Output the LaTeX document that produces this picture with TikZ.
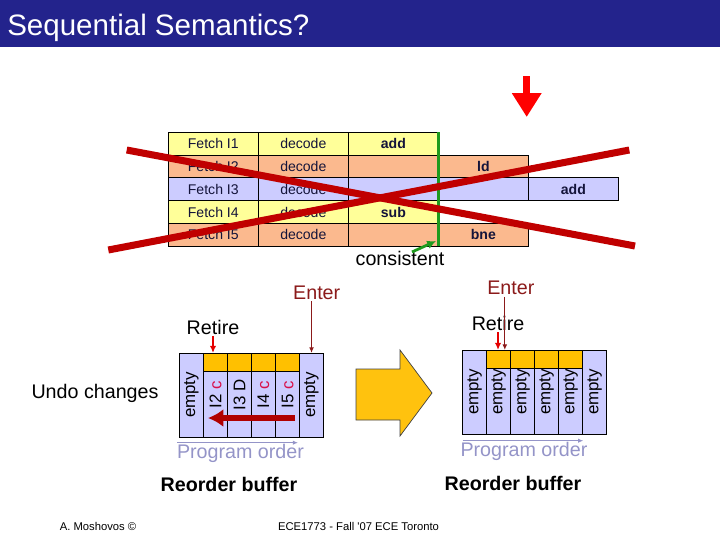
\documentclass[tikz,border=0pt]{standalone}
\usepackage{fontspec}
\setmainfont{Liberation Sans}
\usepackage{tikz}
\usetikzlibrary{arrows.meta,positioning}
\definecolor{barblue}{HTML}{23238C}
\definecolor{rowyellow}{HTML}{FFFF99}
\definecolor{rowsalmon}{HTML}{FBB98E}
\definecolor{rowlav}{HTML}{CCCCFF}
\definecolor{cellink}{HTML}{14143A}
\definecolor{capgold}{HTML}{FFC000}
\definecolor{crossred}{HTML}{C00000}
\definecolor{undored}{HTML}{B00000}
\definecolor{enterred}{HTML}{8B1A1A}
\definecolor{pinkc}{HTML}{D8104A}
\definecolor{progblue}{HTML}{9494C8}
\definecolor{consgreen}{HTML}{1E9A1E}
\definecolor{arrowgold}{HTML}{FFC20E}
\tikzset{
  pipecell/.style={
    rectangle, draw=black, line width=0.6pt,
    minimum width=2.25cm, minimum height=0.57cm,
    inner sep=0pt, outer sep=0pt, text=cellink,
    font=\fontsize{10}{12}\selectfont
  },
  robcol/.style={
    rectangle, draw=black, line width=0.5pt, fill=rowlav,
    minimum width=0.6cm, minimum height=2.1cm,
    inner sep=0pt, outer sep=0pt, font=\fontsize{12}{14}\selectfont
  },
  robcap/.style={
    rectangle, draw=black, line width=0.5pt, fill=capgold,
    minimum width=0.6cm, minimum height=0.47cm, inner sep=0pt, outer sep=0pt
  },
  biglabel/.style={inner sep=1pt, font=\fontsize{14}{16}\selectfont},
  retirearrow/.style={-{Latex[length=1.8mm,width=1.6mm]}, line width=1.2pt, color=red!90!black},
  enterline/.style={-{Latex[length=1.4mm,width=1.2mm]}, line width=0.8pt, color=enterred},
  progarrow/.style={-{Latex[length=1.3mm,width=1.1mm]}, line width=1.1pt, color=progblue},
  crossline/.style={line width=5pt, color=crossred},
}

\begin{document}
\begin{tikzpicture}[x=0.025cm, y=-0.025cm]
  \useasboundingbox (0,0) rectangle (720,540);
  \fill[barblue] (0,0) rectangle (720,47);
  \node[anchor=base west, inner sep=0pt, text=white, font=\fontsize{21}{24}\selectfont] (title) at (7,35) {Sequential Semantics?};

  % pipeline table
  \node[pipecell, fill=rowyellow] (f1) at (213.3,143.7) {Fetch I1};
  \node[pipecell, fill=rowsalmon, below=0pt of f1] (f2) {Fetch I2};
  \node[pipecell, fill=rowlav, below=0pt of f2] (f3) {Fetch I3};
  \node[pipecell, fill=rowyellow, below=0pt of f3] (f4) {Fetch I4};
  \node[pipecell, fill=rowsalmon, below=0pt of f4] (f5) {Fetch I5};
  \node[pipecell, fill=rowyellow, right=0pt of f1] (dec1) {decode};
  \node[pipecell, fill=rowsalmon, right=0pt of f2] (dec2) {decode};
  \node[pipecell, fill=rowlav, right=0pt of f3] (dec3) {decode};
  \node[pipecell, fill=rowyellow, right=0pt of f4] (dec4) {decode};
  \node[pipecell, fill=rowsalmon, right=0pt of f5] (dec5) {decode};
  \node[pipecell, fill=rowyellow, right=0pt of dec1] (ex1) {\textbf{add}};
  \node[pipecell, fill=rowsalmon, right=0pt of dec2] (ex2) {};
  \node[pipecell, fill=rowlav, right=0pt of dec3] (ex3) {};
  \node[pipecell, fill=rowyellow, right=0pt of dec4] (ex4) {\textbf{sub}};
  \node[pipecell, fill=rowsalmon, right=0pt of dec5] (ex5) {};
  \node[pipecell, fill=rowsalmon, right=0pt of ex2] (mem2) {\textbf{ld}};
  \node[pipecell, fill=rowlav, right=0pt of ex3] (mem3) {};
  \node[pipecell, fill=rowsalmon, right=0pt of ex5] (mem5) {\textbf{bne}};
  \node[pipecell, fill=rowlav, right=0pt of mem3] (wb3) {\textbf{add}};

  \draw[consgreen, line width=2.1pt] (ex1.north east) -- (ex5.south east);
  \node[biglabel] (cons) at (400,258.5) {consistent};
  \coordinate (consA) at (412,252);
  \coordinate (consB) at (436,241);
  \draw[consgreen, line width=2pt, -{Latex[length=2.2mm,width=2.2mm]}] (consA) -- (consB);

  % the red cross
  \coordinate (xa) at (126.7,150);
  \coordinate (xb) at (635,246);
  \coordinate (xc) at (108.3,250);
  \coordinate (xd) at (629.3,150);
  \draw[crossline] (xa) -- (xb);
  \draw[crossline] (xc) -- (xd);

  \coordinate (dnA) at (526.7,76);
  \coordinate (dnB) at (526.7,117);
  \draw[red, line width=5pt, -{Triangle[length=17pt,width=20pt]}] (dnA) -- (dnB);

  % left reorder buffer
  \node[robcol] (cL1) at (191.5,395) {\rotatebox{90}{empty}};
  \node[robcol, right=0pt of cL1] (cL2) {\rotatebox{90}{I2 \textcolor{pinkc}{c}}};
  \node[robcol, right=0pt of cL2] (cL3) {\rotatebox{90}{I3 D}};
  \node[robcol, right=0pt of cL3] (cL4) {\rotatebox{90}{I4 \textcolor{pinkc}{c}}};
  \node[robcol, right=0pt of cL4] (cL5) {\rotatebox{90}{I5 \textcolor{pinkc}{c}}};
  \node[robcol, right=0pt of cL5] (cL6) {\rotatebox{90}{empty}};
  \node[robcap, below=0pt of cL2.north] (capL2) {};
  \node[robcap, below=0pt of cL3.north] (capL3) {};
  \node[robcap, below=0pt of cL4.north] (capL4) {};
  \node[robcap, below=0pt of cL5.north] (capL5) {};

  \coordinate (undoA) at (295,418);
  \coordinate (undoB) at (208,418);
  \draw[undored, line width=4.3pt, -{Latex[length=11pt,width=13pt]}] (undoA) -- (undoB);

  \node[biglabel, text=enterred] (entL) at (316.7,292.7) {Enter};
  \node[biglabel] (retL) at (213,327) {Retire};
  \draw[enterline] (entL.south -| cL6) -- (cL6.north);
  \draw[retirearrow] (retL.south) -- (retL.south |- capL2.north);
  \node[biglabel] (undo) at (95,393) {Undo changes};
  \coordinate (pL0) at (177,442.7);
  \coordinate (pL1) at (298,442.7);
  \draw[progarrow] (pL0) -- (pL1);
  \node[biglabel, text=progblue] (progL) at (240.5,453.5) {Program order};
  \node[biglabel, font=\fontsize{14}{16}\selectfont\bfseries] (robL) at (229,484) {Reorder buffer};

  % big arrow between the buffers
  \filldraw[fill=arrowgold, draw=black!75, line width=0.5pt]
    (356,369) -- (400,369) -- (400,350) -- (432,393) -- (400,436) -- (400,420) -- (356,420) -- cycle;

  % right reorder buffer
  \node[robcol] (cR1) at (474.7,392) {\rotatebox{90}{empty}};
  \node[robcol, right=0pt of cR1] (cR2) {\rotatebox{90}{empty}};
  \node[robcol, right=0pt of cR2] (cR3) {\rotatebox{90}{empty}};
  \node[robcol, right=0pt of cR3] (cR4) {\rotatebox{90}{empty}};
  \node[robcol, right=0pt of cR4] (cR5) {\rotatebox{90}{empty}};
  \node[robcol, right=0pt of cR5] (cR6) {\rotatebox{90}{empty}};
  \node[robcap, below=0pt of cR2.north] (capR2) {};
  \node[robcap, below=0pt of cR3.north] (capR3) {};
  \node[robcap, below=0pt of cR4.north] (capR4) {};
  \node[robcap, below=0pt of cR5.north] (capR5) {};

  \node[biglabel, text=enterred] (entR) at (510.8,288.3) {Enter};
  \node[biglabel] (retR) at (498,323.3) {Retire};
  \coordinate (enR) at ([xshift=-0.15cm]entR.south);
  \draw[enterline] (enR) -- (enR |- capR2.north);
  \draw[retirearrow] (retR.south) -- (retR.south |- capR2.north);
  \coordinate (pR0) at (462.7,440.7);
  \coordinate (pR1) at (583.3,440.7);
  \draw[progarrow] (pR0) -- (pR1);
  \node[biglabel, text=progblue] (progR) at (524,451.7) {Program order};
  \node[biglabel, font=\fontsize{14}{16}\selectfont\bfseries] (robR) at (513,483) {Reorder buffer};

  % footer
  \node[font=\fontsize{8}{10}\selectfont] (foot1) at (98,526) {A. Moshovos ©};
  \node[font=\fontsize{8}{10}\selectfont] (foot2) at (358.5,526) {ECE1773 - Fall \textquotesingle 07 ECE Toronto};
\end{tikzpicture}
\end{document}
